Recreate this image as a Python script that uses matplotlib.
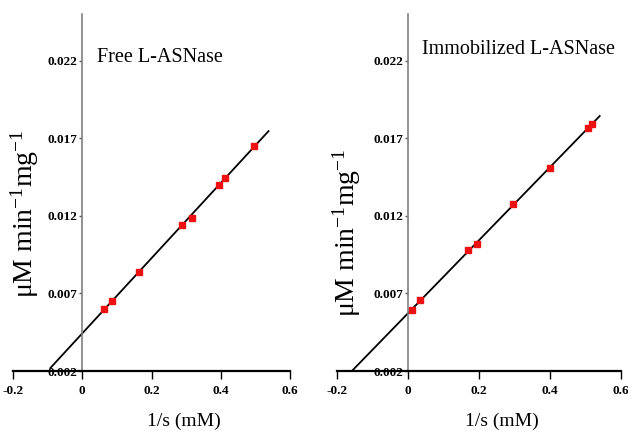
import matplotlib
matplotlib.use("Agg")
import matplotlib.pyplot as plt
import numpy as np

plt.rcParams['font.family'] = ['Liberation Serif', 'DejaVu Serif']
plt.rcParams['mathtext.fontset'] = 'custom'
plt.rcParams['mathtext.rm'] = 'Liberation Serif'
plt.rcParams['mathtext.it'] = 'Liberation Serif:italic'
plt.rcParams['mathtext.bf'] = 'Liberation Serif:bold'

# Data
free_x = [0.064, 0.085, 0.163, 0.287, 0.316, 0.395, 0.411, 0.497]
free_y = [0.0060, 0.0065, 0.00839, 0.0114, 0.01187, 0.01401, 0.01444, 0.0165]
free_line_range = [-0.092, 0.538]

imm_x = [0.012, 0.033, 0.170, 0.194, 0.297, 0.399, 0.506, 0.519]
imm_y = [0.00593, 0.00657, 0.0098, 0.01017, 0.01277, 0.01508, 0.01766, 0.0179]
imm_line_range = [-0.155, 0.540]

x_ticks = [-0.2, 0, 0.2, 0.4, 0.6]
x_ticklabels = ['-0.2', '0', '0.2', '0.4', '0.6']
y_ticks = [0.002, 0.007, 0.012, 0.017, 0.022]
y_ticklabels = ['0.002', '0.007', '0.012', '0.017', '0.022']

titles = ['Free L-ASNase', 'Immobilized L-ASNase']
ylabel = r'μM min$^{-1}$mg$^{-1}$'
xlabel = '1/s (mM)'

W, H = 628, 432
fig = plt.figure(figsize=(W / 100, H / 100), dpi=100)

def px_axes(l, r, top, bottom):
    return [l / W, 1 - bottom / H, (r - l) / W, (bottom - top) / H]

panels = [
    dict(rect=px_axes(13, 290, 14, 371), x=free_x, y=free_y, rng=free_line_range,
         title=titles[0], tpos=(97, 57), ylpos=(25, 214), xlpos=(184, 421)),
    dict(rect=px_axes(337, 621, 14, 371), x=imm_x, y=imm_y, rng=imm_line_range,
         title=titles[1], tpos=(422, 50), ylpos=(347, 233), xlpos=(502, 421)),
]

for p in panels:
    ax = fig.add_axes(p['rect'])
    ax.set_xlim(-0.2, 0.6)
    ax.set_ylim(0.002, 0.025)
    ax.spines['top'].set_visible(False)
    ax.spines['right'].set_visible(False)
    ax.spines['left'].set_position(('data', 0))
    ax.spines['left'].set_color('#808080')
    ax.spines['left'].set_linewidth(1.2)
    ax.spines['bottom'].set_color('black')
    ax.spines['bottom'].set_linewidth(1.6)

    slope, intercept = np.polyfit(p['x'], p['y'], 1)
    lx = np.array(p['rng'])
    ax.plot(lx, slope * lx + intercept, color='black', lw=1.3, zorder=2)
    ax.plot(p['x'], p['y'], linestyle='none', marker='s', ms=5, color='#ee1111',
            markeredgecolor='#ee1111', zorder=3)

    ax.set_xticks(x_ticks)
    ax.set_xticklabels(x_ticklabels, fontsize=9.5, fontweight='bold')
    ax.set_yticks(y_ticks)
    ax.set_yticklabels(y_ticklabels, fontsize=9.5, fontweight='bold')
    ax.tick_params(axis='x', direction='out', length=6, width=1.0, pad=4)
    ax.tick_params(axis='y', direction='out', length=2.5, width=1.0, pad=1,
                   color='#555555')

    fig.text(p['tpos'][0] / W, 1 - p['tpos'][1] / H, p['title'], fontsize=14.5,
             ha='left', va='center')
    fig.text(p['ylpos'][0] / W, 1 - p['ylpos'][1] / H, ylabel, fontsize=20,
             rotation=90, ha='center', va='center')
    fig.text(p['xlpos'][0] / W, 1 - p['xlpos'][1] / H, xlabel, fontsize=14,
             ha='center', va='center')

fig.savefig('out.png', dpi=100)
